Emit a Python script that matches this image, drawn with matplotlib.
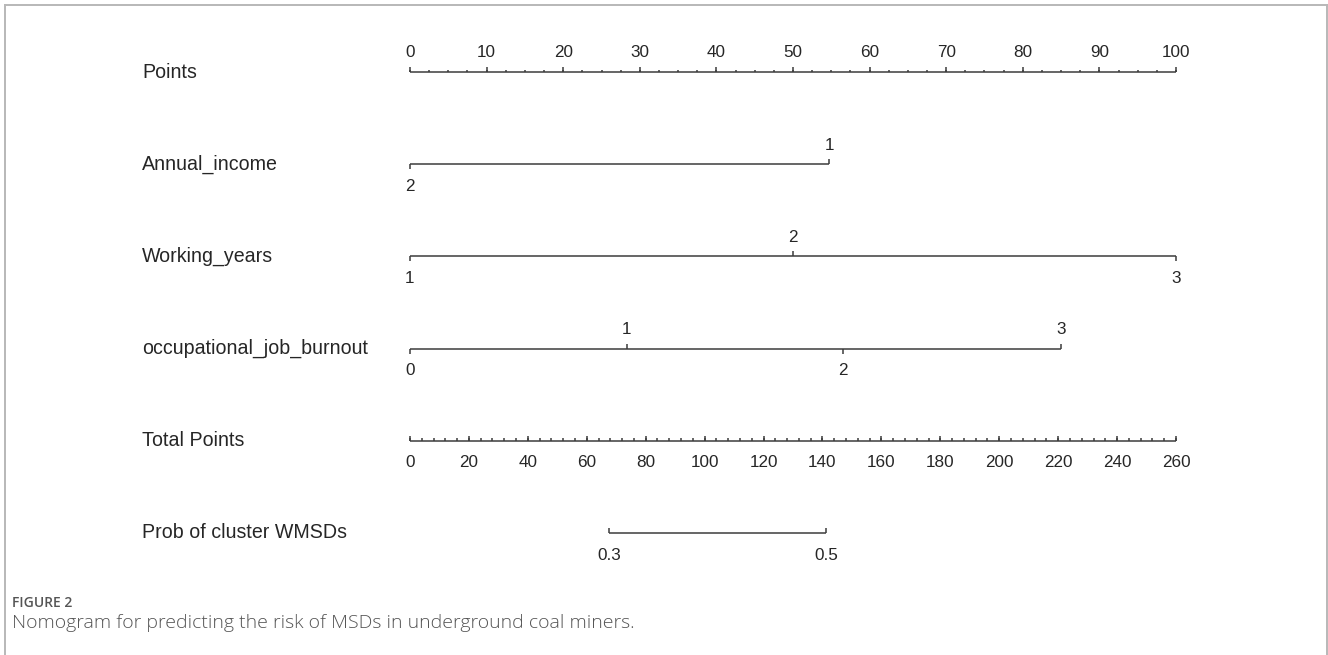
import matplotlib
matplotlib.use("Agg")
import matplotlib.pyplot as plt
from matplotlib.lines import Line2D
import numpy as np

# ---- nomogram content ----
row_names = ["Points", "Annual_income", "Working_years",
             "occupational_job_burnout", "Total Points", "Prob of cluster WMSDs"]

points_ticks = list(range(0, 101, 10))

income_levels = ["2", "1"]
income_points = [0.0, 54.7]

working_levels = ["1", "2", "3"]
working_points = [0.0, 50.0, 100.0]

burnout_levels = ["0", "1", "2", "3"]
burnout_points = [0.0, 28.3, 56.5, 85.0]

total_ticks = list(range(0, 261, 20))
total_max = 260

prob_labels = ["0.3", "0.5"]
prob_total_points = [67.5, 141.2]

# ---- figure / layout ----
W, H, DPI = 1328, 655, 100
fig = plt.figure(figsize=(W / DPI, H / DPI), dpi=DPI)
fig.patch.set_facecolor("white")

x0_px, x1_px = 410, 1176
row0_px, row_gap_px = 72, 92.2
ax = fig.add_axes([x0_px / W, 0, (x1_px - x0_px) / W, 1])
ax.set_xlim(0, 100)
ax.set_ylim((H - row0_px) / row_gap_px, -row0_px / row_gap_px)
ax.axis("off")

px = 1.0 / row_gap_px  # one pixel in row units
line_kw = dict(color="#3c3c3c", lw=1.1, clip_on=False, solid_capstyle="butt")
txt_col = "#262626"
tick_fs = 12.3
font = "Liberation Sans"


def scale_row(y, majors, labels, minor_step, to_pts, labels_above=True,
              maj_len=5, min_len=2.5):
    lo, hi = to_pts(majors[0]), to_pts(majors[-1])
    ax.plot([lo, hi], [y, y], **line_kw)
    for m in np.arange(majors[0], majors[-1] + 1e-9, minor_step):
        ax.plot([to_pts(m)] * 2, [y, y - min_len * px], **line_kw)
    lab_sgn = -1 if labels_above else 1
    for m, lab in zip(majors, labels):
        ax.plot([to_pts(m)] * 2, [y, y - maj_len * px], **line_kw)
        ax.text(to_pts(m), y + lab_sgn * (20 if labels_above else 22) * px, lab,
                ha="center", va="center", fontsize=tick_fs, color=txt_col, family=font)


def factor_row(y, levels, pts):
    ax.plot([min(pts), max(pts)], [y, y], **line_kw)
    for i, (lab, p) in enumerate(zip(levels, pts)):
        above = i % 2 == 1
        sgn = -1 if above else 1
        ax.plot([p, p], [y, y + sgn * 5 * px], **line_kw)
        ax.text(p, y + sgn * (19 if above else 22) * px, lab, ha="center", va="center",
                fontsize=tick_fs, color=txt_col, family=font)


# row labels
for i, name in enumerate(row_names):
    fig.text(142 / W, 1 - (row0_px + i * row_gap_px) / H, name, ha="left", va="center",
             fontsize=14.1, color=txt_col, family=font)

# Points
scale_row(0, points_ticks, [str(t) for t in points_ticks], 2.5, lambda v: v,
          labels_above=True)

# predictors
factor_row(1, income_levels, income_points)
factor_row(2, working_levels, working_points)
factor_row(3, burnout_levels, burnout_points)

# Total points
to_scale = lambda v: v * 100.0 / total_max
scale_row(4, total_ticks, [str(t) for t in total_ticks], 4, to_scale,
          labels_above=False, maj_len=5, min_len=3)

# probability
pp = [to_scale(v) for v in prob_total_points]
ax.plot([pp[0], pp[1]], [5, 5], **line_kw)
for p, lab in zip(pp, prob_labels):
    ax.plot([p, p], [5, 5 - 5 * px], **line_kw)
    ax.text(p, 5 + 22 * px, lab, ha="center", va="center",
            fontsize=tick_fs, color=txt_col, family=font)

# panel frame
frame_kw = dict(color="#b8b8b8", lw=1.4)
fig.add_artist(Line2D([4.5 / W, 4.5 / W], [0, 1 - 5 / H], transform=fig.transFigure, **frame_kw))
fig.add_artist(Line2D([4.5 / W, 1327 / W], [1 - 5 / H, 1 - 5 / H], transform=fig.transFigure, **frame_kw))
fig.add_artist(Line2D([1327 / W, 1327 / W], [0, 1 - 5 / H], transform=fig.transFigure, **frame_kw))

# caption
fig.text(12 / W, 1 - 603 / H, "FIGURE 2", ha="left", va="center", fontsize=10,
         color="#555555", family="Open Sans", fontweight="semibold")
fig.text(12 / W, 1 - 623 / H, "Nomogram for predicting the risk of MSDs in underground coal miners.",
         ha="left", va="center", fontsize=14, color="#555555", family="Open Sans",
         fontweight="light")

fig.savefig("out.png", dpi=DPI)
